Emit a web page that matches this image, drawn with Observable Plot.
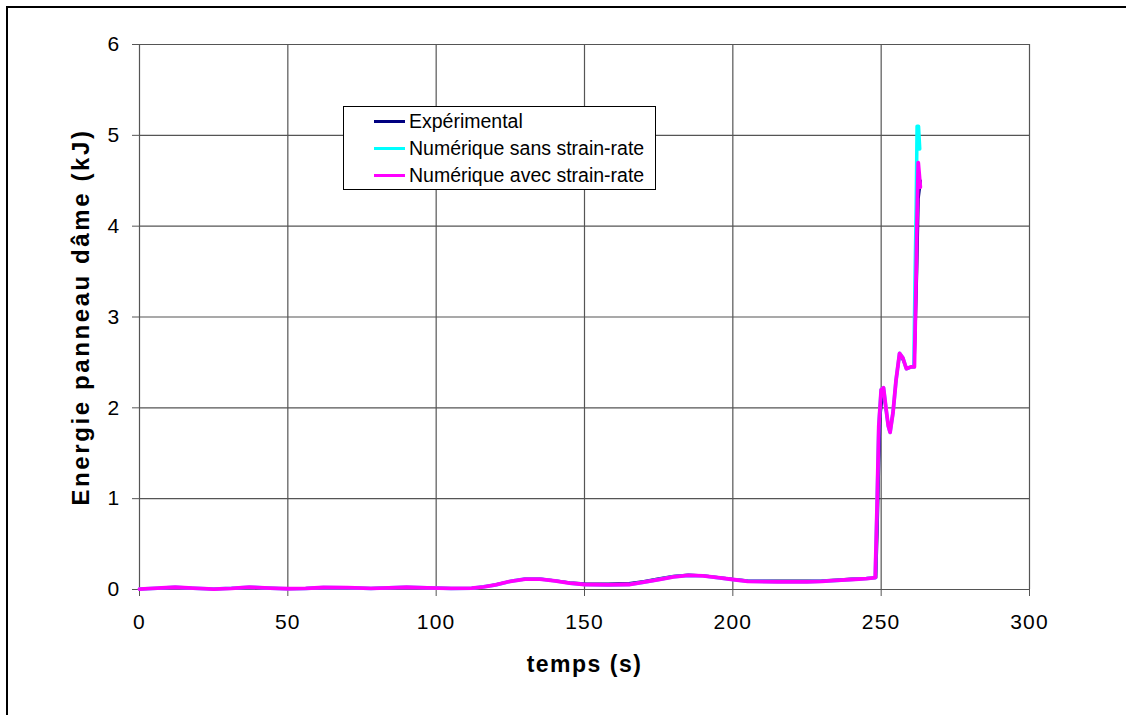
<!DOCTYPE html>
<html>
<head>
<meta charset="utf-8">
<script src="https://cdn.jsdelivr.net/npm/d3@7"></script>
<script src="https://cdn.jsdelivr.net/npm/@observablehq/plot@0.6"></script>
<style>
  html, body { margin: 0; padding: 0; background: #fff; }
  #wrap { position: relative; width: 1126px; height: 715px; overflow: hidden; font-family: "Liberation Sans", Arial, sans-serif; }
  #border { position: absolute; left: 6px; top: 6px; width: 1200px; height: 800px; border-top: 2px solid #000; border-left: 2px solid #000; pointer-events: none; }
  #legend { position: absolute; left: 343px; top: 106px; width: 313px; height: 84px; border: 1px solid #000; background: #fff; box-sizing: border-box; }
  .row { position: absolute; left: 0; height: 24px; display: flex; align-items: center; font-size: 19.5px; color: #000; white-space: nowrap; }
  .sw { display: inline-block; width: 31px; height: 3px; margin-left: 30px; margin-right: 4px; }
  svg [aria-label="x-axis tick label"] text, svg [aria-label="y-axis tick label"] text { letter-spacing: 1.2px; }
  svg [aria-label="y-axis label"] text { font-weight: bold; font-size: 24px; letter-spacing: 2.6px; }
  svg [aria-label="x-axis label"] text { font-weight: bold; font-size: 23px; letter-spacing: 1.5px; }
</style>
</head>
<body>
<div id="wrap">
  <div id="chart"></div>
  <div id="border"></div>
  <div id="legend"></div>
</div>
<script>
// ---- data ----
const seriesNames = ["Expérimental", "Numérique sans strain-rate", "Numérique avec strain-rate"];
const seriesColors = ["#000080", "#00FFFF", "#FF00FF"];
const xTicks = [0, 50, 100, 150, 200, 250, 300];
const yTicks = [0, 1, 2, 3, 4, 5, 6];

// Expérimental
const tExp = [0, 6, 12, 18, 25, 31, 37, 44, 50, 56, 62, 70, 78, 84, 90, 97, 105, 112, 116, 120, 125, 130, 135, 140, 145, 150, 158, 165, 170, 175, 180, 185, 190, 195, 200, 205, 215, 225, 230, 235, 240, 245, 248.3, 248.8, 249.3, 249.7, 250.5, 251.3, 252.2, 253, 254, 255, 256.2, 257.3, 258.5, 260, 261.2, 261.7, 262.1, 262.6, 263.3];
const eExp = [0.005, 0.012, 0.022, 0.015, 0.006, 0.012, 0.022, 0.016, 0.01, 0.013, 0.02, 0.02, 0.014, 0.018, 0.024, 0.018, 0.013, 0.016, 0.03, 0.055, 0.092, 0.118, 0.118, 0.1, 0.078, 0.066, 0.064, 0.068, 0.09, 0.12, 0.148, 0.162, 0.155, 0.135, 0.115, 0.1, 0.095, 0.095, 0.098, 0.108, 0.118, 0.125, 0.13, 0.7, 1.4, 1.9, 2.15, 2.05, 1.85, 1.76, 1.95, 2.3, 2.57, 2.53, 2.44, 2.45, 2.45, 3.0, 3.5, 4.3, 4.5];

// Numérique sans strain-rate
const tSans = [0, 6, 12, 18, 25, 31, 37, 44, 50, 56, 62, 70, 78, 84, 90, 97, 105, 112, 116, 120, 125, 130, 135, 140, 145, 150, 158, 165, 170, 175, 180, 185, 190, 195, 200, 205, 215, 225, 230, 235, 240, 245, 248, 248.6, 249.2, 250, 250.8, 251.6, 252.4, 253, 254, 255, 256.2, 257.3, 258.5, 260, 261, 261.4, 261.8, 262.1, 262.6, 263];
const eSans = [0.005, 0.015, 0.026, 0.015, 0.005, 0.013, 0.026, 0.015, 0.008, 0.012, 0.022, 0.02, 0.012, 0.018, 0.026, 0.018, 0.012, 0.015, 0.03, 0.05, 0.09, 0.115, 0.115, 0.095, 0.07, 0.055, 0.05, 0.055, 0.08, 0.11, 0.14, 0.155, 0.15, 0.13, 0.11, 0.09, 0.085, 0.085, 0.09, 0.1, 0.11, 0.12, 0.13, 0.9, 1.8, 2.2, 2.22, 2.0, 1.8, 1.73, 1.95, 2.3, 2.6, 2.55, 2.43, 2.45, 2.45, 3.4, 4.2, 5.1, 5.1, 4.85];

// Numérique avec strain-rate
const tAvec = [0, 6, 12, 18, 25, 31, 37, 44, 50, 56, 62, 70, 78, 84, 90, 97, 105, 112, 116, 120, 125, 130, 135, 140, 145, 150, 158, 165, 170, 175, 180, 185, 190, 195, 200, 205, 215, 225, 230, 235, 240, 245, 248, 248.6, 249.2, 250, 250.8, 251.6, 252.4, 253, 254, 255, 256.2, 257.3, 258.5, 260, 261.2, 261.7, 262.1, 262.5, 263.2];
const eAvec = [0.005, 0.015, 0.025, 0.015, 0.005, 0.012, 0.025, 0.015, 0.008, 0.012, 0.022, 0.02, 0.012, 0.018, 0.025, 0.018, 0.012, 0.015, 0.03, 0.05, 0.09, 0.115, 0.115, 0.095, 0.07, 0.055, 0.05, 0.055, 0.08, 0.11, 0.14, 0.155, 0.15, 0.13, 0.11, 0.09, 0.085, 0.085, 0.09, 0.1, 0.11, 0.12, 0.13, 0.9, 1.8, 2.2, 2.22, 2.0, 1.8, 1.73, 1.95, 2.3, 2.6, 2.55, 2.43, 2.45, 2.45, 3.3, 4.1, 4.7, 4.43];

const toRows = (ts, es) => ts.map((t, i) => ({t, e: es[i]}));
const rowsExp = toRows(tExp, eExp);
const rowsSans = toRows(tSans, eSans);
const rowsAvec = toRows(tAvec, eAvec);

const chart = Plot.plot({
  width: 1126,
  height: 715,
  marginLeft: 139,
  marginRight: 97,
  marginTop: 44,
  marginBottom: 126,
  style: {fontFamily: '"Liberation Sans", Arial, sans-serif', fontSize: "21px", background: "transparent", color: "#000"},
  x: {domain: [0, 300]},
  y: {domain: [0, 6]},
  marks: [
    Plot.gridX(xTicks, {stroke: "#555", strokeOpacity: 1, strokeWidth: 1.2}),
    Plot.gridY(yTicks, {stroke: "#555", strokeOpacity: 1, strokeWidth: 1.2}),
    Plot.axisX({ticks: xTicks, tickSize: 7, tickPadding: 18, stroke: "#555", fontSize: 21, tickFormat: d3.format("d"),
      label: "temps (s)", labelAnchor: "center", labelArrow: "none", labelOffset: 82}),
    Plot.axisY({ticks: yTicks, tickSize: 7, tickPadding: 12, stroke: "#555", fontSize: 21, tickFormat: d3.format("d"),
      label: "Energie panneau dâme (kJ)", labelAnchor: "center", labelArrow: "none", labelOffset: 68}),
    Plot.line(rowsExp, {x: "t", y: "e", stroke: seriesColors[0], strokeWidth: 2.5}),
    Plot.line(rowsSans, {x: "t", y: "e", stroke: seriesColors[1], strokeWidth: 3.5}),
    Plot.line(rowsAvec, {x: "t", y: "e", stroke: seriesColors[2], strokeWidth: 3.8})
  ]
});
document.getElementById("chart").appendChild(chart);

// legend
const leg = document.getElementById("legend");
const rowTops = [2, 29, 56];
seriesNames.forEach((name, i) => {
  const r = document.createElement("div");
  r.className = "row";
  r.style.top = rowTops[i] + "px";
  const sw = document.createElement("span");
  sw.className = "sw";
  sw.style.background = seriesColors[i];
  r.appendChild(sw);
  r.appendChild(document.createTextNode(name));
  leg.appendChild(r);
});
</script>
</body>
</html>
